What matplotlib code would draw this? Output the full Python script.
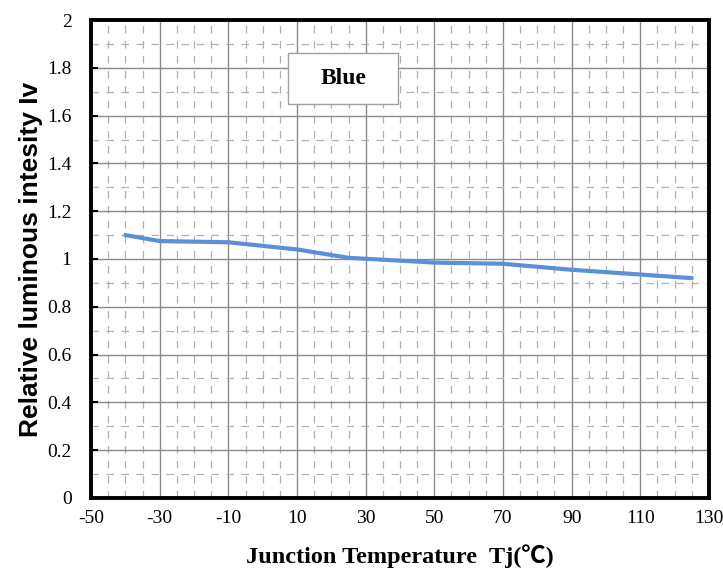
import matplotlib
matplotlib.use("Agg")
import matplotlib.pyplot as plt
from matplotlib.ticker import MultipleLocator
from matplotlib.patches import Rectangle

# junction temperature (C) vs relative luminous intensity
temp = [-40, -30, -10, 10, 25, 50, 70, 90, 110, 125]
iv = [1.10, 1.075, 1.07, 1.04, 1.005, 0.985, 0.98, 0.955, 0.935, 0.92]
xticks = [-50, -30, -10, 10, 30, 50, 70, 90, 110, 130]
yticks = [0, 0.2, 0.4, 0.6, 0.8, 1, 1.2, 1.4, 1.6, 1.8, 2]
ytick_labels = ["0", "0.2", "0.4", "0.6", "0.8", "1", "1.2", "1.4", "1.6", "1.8", "2"]

serif = ["Liberation Serif", "Noto Sans CJK SC", "DejaVu Sans"]

fig = plt.figure(figsize=(7.23, 5.8), dpi=100)
ax = fig.add_axes([0.1259, 0.1414, 0.8547, 0.8241])

ax.set_xlim(-50, 130)
ax.set_ylim(0, 2)

# grid: solid majors, dashed minors
ax.xaxis.set_major_locator(MultipleLocator(20))
ax.xaxis.set_minor_locator(MultipleLocator(5))
ax.yaxis.set_major_locator(MultipleLocator(0.2))
ax.yaxis.set_minor_locator(MultipleLocator(0.1))
ax.grid(which="major", color="#8a8a8a", lw=1.0, ls="-")
ax.grid(which="minor", color="#b0b0b0", lw=0.9, ls=(0, (6, 6)))
ax.set_axisbelow(True)

ax.plot(temp, iv, color="#5b8fd9", lw=3, solid_capstyle="round", zorder=3)

ax.set_xticks(xticks)
ax.set_xticklabels([str(t) for t in xticks], family=serif, fontsize=14)
ax.set_yticks(yticks)
ax.set_yticklabels(ytick_labels, family=serif, fontsize=14)
ax.tick_params(axis="x", which="both", length=0, pad=9)
ax.tick_params(axis="y", which="major", direction="in", length=5, width=1.5, pad=14)
ax.tick_params(axis="y", which="minor", length=0)

for s in ax.spines.values():
    s.set_linewidth(2.8)
    s.set_color("black")

ax.set_xlabel("Junction Temperature  Tj(\u2103)", family=serif,
              fontweight="bold", fontsize=17.5, labelpad=12)
ax.set_ylabel("Relative luminous intesity Iv", family="Liberation Sans",
              fontweight="bold", fontsize=19, labelpad=3)

# legend-like label box
ax.add_patch(Rectangle((0.319, 0.824), 0.178, 0.107, transform=ax.transAxes,
                       fc="white", ec="#a0a0a0", lw=1, zorder=4))
ax.text(0.408, 0.877, "Blue", transform=ax.transAxes, ha="center", va="center",
        family=serif, fontweight="bold", fontsize=17, zorder=5)

fig.savefig("out.png", dpi=100)
